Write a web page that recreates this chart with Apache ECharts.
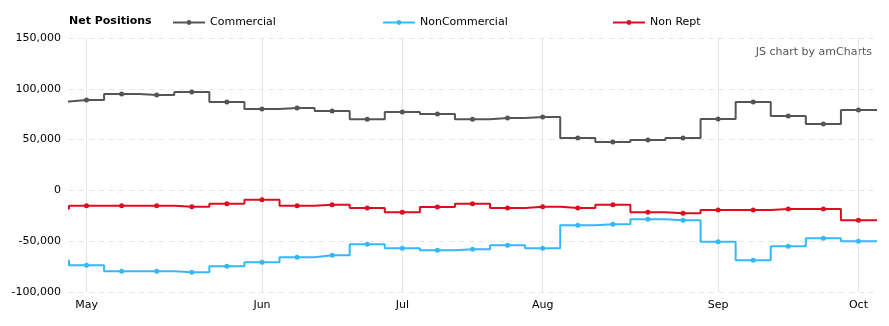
<!DOCTYPE html>
<html>
<head>
<meta charset="utf-8">
<script src="https://cdn.jsdelivr.net/npm/echarts@6/dist/echarts.min.js"></script>
<style>
html,body{margin:0;padding:0;background:#fff;}
#chart{width:889px;height:326px;}
</style>
</head>
<body>
<div id="chart"></div>
<script>
// Weekly report dates (category axis)
var dates = ['2017-05-02','2017-05-09','2017-05-16','2017-05-23','2017-05-30',
  '2017-06-06','2017-06-13','2017-06-20','2017-06-27',
  '2017-07-04','2017-07-11','2017-07-18','2017-07-25',
  '2017-08-01','2017-08-08','2017-08-15','2017-08-22','2017-08-29',
  '2017-09-05','2017-09-12','2017-09-19','2017-09-26',
  '2017-10-03'];
var monthNames = ['Jan','Feb','Mar','Apr','May','Jun','Jul','Aug','Sep','Oct','Nov','Dec'];

// Series values
var commercial = [89000, 95000, 94000, 96900, 87000, 80200, 81100, 78200, 70000, 77200, 75200, 70000, 71300, 72300, 51600, 47600, 49600, 51600, 70300, 87100, 73300, 65400, 79200];
var nonCommercial = [-73600, -79500, -79500, -80500, -74600, -70700, -65700, -63800, -52900, -56900, -58900, -57900, -53900, -56900, -34200, -33200, -28300, -29300, -50600, -68700, -54900, -47000, -50000];
var nonRept = [-15100, -15100, -15100, -16100, -13100, -9200, -15100, -14100, -17400, -21400, -16400, -13100, -17400, -16100, -17400, -14100, -21400, -22400, -19400, -19400, -18400, -18400, -29300];
// Week before the visible range (only its step edge shows at the left border)
var priorWeek = {commercial: 87500, nonCommercial: -69000, nonRept: -18000};

var yTicks = [-100000, -50000, 0, 50000, 100000, 150000];

var seriesNames = ['Commercial', 'NonCommercial', 'Non Rept'];
var seriesColors = ['#555555', '#33b9f7', '#dd0c1e'];

// month-start indices
var monthStarts = [];
dates.forEach(function (d, i) {
  if (i === 0 || d.slice(5, 7) !== dates[i - 1].slice(5, 7)) monthStarts.push(i);
});

function buildData(prev, values) {
  var out = [{value: [-1, prev], symbol: 'none'}];
  values.forEach(function (v, i) { out.push([i, v]); });
  out.push({value: [values.length, values[values.length - 1]], symbol: 'none'});
  return out;
}

var chart = echarts.init(document.getElementById('chart'), null, {renderer: 'canvas'});
var font = 'DejaVu Sans';

function mkSeries(name, prev, values, color, z) {
  return {
    name: name,
    type: 'line',
    xAxisIndex: 1,
    step: 'middle',
    data: buildData(prev, values),
    symbol: 'circle',
    symbolSize: 5,
    showAllSymbol: true,
    clip: true,
    z: z,
    lineStyle: {color: color, width: 2},
    itemStyle: {color: color},
    emphasis: {disabled: true}
  };
}

function legendAt(left, name) {
  return {
    left: left, top: 12,
    data: [name],
    itemWidth: 32, itemHeight: 6, itemGap: 5,
    selectedMode: false,
    textStyle: {fontFamily: font, fontSize: 11, color: '#000'}
  };
}

chart.setOption({
  animation: false,
  backgroundColor: '#fff',
  textStyle: {fontFamily: font},
  title: {
    text: 'Net Positions', left: 64, top: 11,
    textStyle: {fontFamily: font, fontSize: 11, fontWeight: 'bold', color: '#000'}
  },
  legend: [legendAt(167, seriesNames[0]), legendAt(377, seriesNames[1]), legendAt(607, seriesNames[2])],
  graphic: [{
    type: 'text', right: 17, top: 47,
    style: {text: 'JS chart by amCharts', fontFamily: font, fontSize: 11, fill: '#555'}
  }],
  grid: {left: 69, right: 13, top: 38, bottom: 34, containLabel: false},
  xAxis: [{
    type: 'category',
    data: dates,
    boundaryGap: true,
    axisLine: {show: false},
    axisTick: {show: false},
    splitLine: {show: false},
    axisLabel: {
      interval: function (i) { return monthStarts.indexOf(i) >= 0; },
      formatter: function (v) { return monthNames[parseInt(v.slice(5, 7), 10) - 1]; },
      fontFamily: font, fontSize: 11, color: '#000', margin: 8
    }
  }, {
    type: 'value',
    min: -0.5, max: dates.length - 0.5,
    show: false
  }],
  yAxis: {
    type: 'value',
    min: yTicks[0], max: yTicks[yTicks.length - 1], interval: 50000,
    axisLine: {show: false},
    axisTick: {show: false},
    axisLabel: {
      fontFamily: font, fontSize: 11, color: '#000', margin: 8,
      formatter: function (v) { return v.toLocaleString('en-US'); }
    },
    splitLine: {show: true, lineStyle: {color: '#e6e6e6', type: [5, 5], width: 1}}
  },
  series: [
    {
      name: 'grid', type: 'line', xAxisIndex: 1, data: [], z: 1, silent: true,
      markLine: {
        silent: true, symbol: ['none', 'none'], z: 1, animation: false,
        label: {show: false},
        lineStyle: {color: '#e3e3e3', width: 1, type: 'solid'},
        emphasis: {disabled: true},
        data: monthStarts.map(function (i) { return {xAxis: i}; })
      }
    },
    mkSeries(seriesNames[0], priorWeek.commercial, commercial, seriesColors[0], 3),
    mkSeries(seriesNames[1], priorWeek.nonCommercial, nonCommercial, seriesColors[1], 3),
    mkSeries(seriesNames[2], priorWeek.nonRept, nonRept, seriesColors[2], 4)
  ]
});
</script>
</body>
</html>
